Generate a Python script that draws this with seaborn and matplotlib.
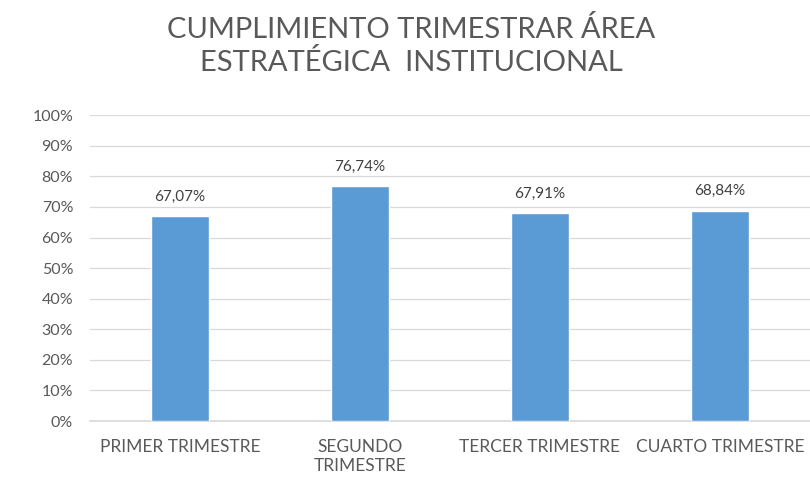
import matplotlib
matplotlib.use("Agg")
import matplotlib.pyplot as plt
import seaborn as sns
import pandas as pd

categories = ["PRIMER TRIMESTRE", "SEGUNDO\nTRIMESTRE", "TERCER TRIMESTRE", "CUARTO TRIMESTRE"]
values = [67.07, 76.74, 67.91, 68.84]
value_labels = ["67,07%", "76,74%", "67,91%", "68,84%"]
yticks = [0, 10, 20, 30, 40, 50, 60, 70, 80, 90, 100]
ytick_labels = [f"{v}%" for v in yticks]
title = "CUMPLIMIENTO TRIMESTRAR ÁREA\nESTRATÉGICA  INSTITUCIONAL"

sns.set_theme(style="white")
plt.rcParams["font.family"] = ["Lato", "DejaVu Sans"]

df = pd.DataFrame({"cat": categories, "val": values})

fig = plt.figure(figsize=(8.1, 4.84), dpi=100)
ax = fig.add_axes([0.111, 0.130, 0.889, 0.632])
sns.barplot(data=df, x="cat", y="val", color="#5B9BD5", width=0.32,
            saturation=1, ax=ax, zorder=3)
ax.set_xlim(-0.5, 3.5)
ax.set_ylim(0, 100)
ax.set_yticks(yticks)
ax.set_yticklabels(ytick_labels, fontsize=11.5, color="#595959")
ax.set_xticks(range(len(categories)))
ax.set_xticklabels(categories, fontsize=12.5, color="#595959", linespacing=1.25)
ax.tick_params(axis="y", length=0, pad=12)
ax.tick_params(axis="x", length=0, pad=13)
ax.set_xlabel("")
ax.set_ylabel("")
ax.grid(axis="y", color="#D9D9D9", linewidth=0.9, zorder=0)
for s in ["top", "right", "left"]:
    ax.spines[s].set_visible(False)
ax.spines["bottom"].set_color("#D9D9D9")
for i, (v, lab) in enumerate(zip(values, value_labels)):
    ax.annotate(lab, (i, v), xytext=(0, 9), textcoords="offset points",
                ha="center", va="bottom", fontsize=11, color="#404040")
fig.text(0.508, 0.905, title, ha="center", va="center", fontsize=21,
         color="#595959", linespacing=1.3)
fig.savefig("out.png", dpi=100)
